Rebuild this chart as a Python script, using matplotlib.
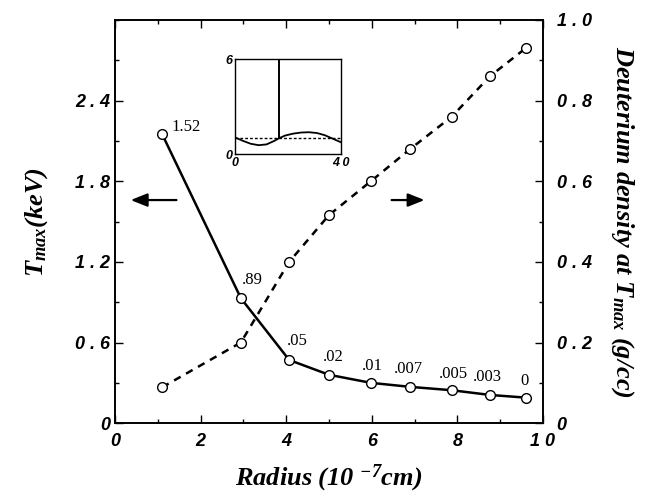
import numpy as np
from matplotlib import pyplot as plt
from matplotlib.ticker import MultipleLocator

# Tmax curve (left axis, keV) with labels at each point
radius = [1.1, 2.94, 4.07, 5.0, 5.98, 6.9, 7.87, 8.76, 9.6]
t_max = [2.15, 0.93, 0.47, 0.36, 0.30, 0.27, 0.245, 0.21, 0.19]
point_labels = ['1.52', '.89', '.05', '.02', '.01', '.007', '.005', '.003', '0']

# deuterium density at Tmax (right axis, g/cc)
density = [0.089, 0.20, 0.40, 0.516, 0.60, 0.68, 0.76, 0.86, 0.93]

# inset profile
inset_x = [0, 3, 6, 9, 12, 15, 16.6, 19, 22, 25, 28, 31, 34, 37, 40]
inset_y = [1.07, 0.85, 0.66, 0.57, 0.62, 0.85, 1.0, 1.18, 1.30, 1.37, 1.39, 1.34, 1.20, 0.98, 0.76]
inset_dash = [1.0, 1.0]
inset_spike_x = 16.6

left_ticks = [0, 0.6, 1.2, 1.8, 2.4]
left_ticklabels = ['0', '0 . 6', '1 . 2', '1 . 8', '2 . 4']
right_ticks = [0, 0.2, 0.4, 0.6, 0.8, 1.0]
right_ticklabels = ['0', '0 . 2', '0 . 4', '0 . 6', '0 . 8', '1 . 0']
x_ticks = [0, 2, 4, 6, 8, 10]
x_ticklabels = ['0', '2', '4', '6', '8', '1 0']

plt.rcParams['mathtext.fontset'] = 'custom'
plt.rcParams['mathtext.it'] = 'Liberation Serif:bold:italic'
plt.rcParams['mathtext.rm'] = 'Liberation Serif:bold:italic'
plt.rcParams['mathtext.bf'] = 'Liberation Serif:bold:italic'

tick_font = dict(family='Liberation Sans', weight='bold', style='italic', size=13)
label_font = dict(family='Liberation Serif', weight='bold', style='italic', size=19)

fig = plt.figure(figsize=(6.54, 4.99), dpi=100)
ax = fig.add_axes([0.176, 0.152, 0.654, 0.808])
ax2 = ax.twinx()

ax.plot(radius, t_max, '-', color='black', lw=1.8, marker='o', ms=7,
        mfc='white', mec='black', mew=1.0, zorder=3)
ax2.plot(radius, density, color='black', lw=1.8, ls=(0, (3, 2.5)), marker='o', ms=7,
         mfc='white', mec='black', mew=1.0, zorder=3)

offsets = [(17, 5), (8, 13), (6, 14), (3, 13), (1, 12), (-1, 13), (1, 12), (-2, 13), (-1, 12)]
for x, y, s, off in zip(radius, t_max, point_labels, offsets):
    ax.annotate(s, (x, y), xytext=off, textcoords='offset points', ha='center', va='center',
                family='Liberation Serif', fontsize=12)

ax.set_xlim(0, 10)
ax.set_ylim(0, 3.0)
ax2.set_ylim(0, 1.0)

ax.set_xticks(x_ticks)
ax.set_xticklabels(x_ticklabels, fontdict=tick_font)
ax.set_yticks(left_ticks)
ax.set_yticklabels(left_ticklabels, fontdict=tick_font)
ax2.set_yticks(right_ticks)
ax2.set_yticklabels(right_ticklabels, fontdict=tick_font)
ax.xaxis.set_minor_locator(MultipleLocator(1))
ax.yaxis.set_minor_locator(MultipleLocator(0.3))
ax2.yaxis.set_minor_locator(MultipleLocator(0.1))

ax.tick_params(which='both', direction='in', top=True, width=1)
ax.tick_params(which='major', length=6)
ax.tick_params(which='minor', length=3)
ax.tick_params(axis='x', pad=7)
ax2.tick_params(which='both', direction='in', width=1)
ax2.tick_params(which='major', length=6, pad=10)
ax2.tick_params(which='minor', length=3)
for a in (ax, ax2):
    for sp in a.spines.values():
        sp.set_linewidth(1.2)

ax.set_xlabel('Radius (10 $^{-7}$cm)', fontdict=label_font, labelpad=9)
ax.set_ylabel('$T_{max}$(keV)', fontdict=label_font, labelpad=18)
ax2.set_ylabel('Deuterium density at $T_{max}$ (g/cc)', fontdict=label_font,
               rotation=270, labelpad=32)

arrow = dict(arrowstyle='-|>,head_length=1.0,head_width=0.4', color='black', lw=1.6)
ax.annotate('', xy=(0.3, 1.66), xytext=(1.5, 1.66), arrowprops=arrow)
ax.annotate('', xy=(7.3, 1.66), xytext=(6.4, 1.66), arrowprops=arrow)

# inset
axi = fig.add_axes([0.359, 0.691, 0.162, 0.190])
axi.plot(inset_x, inset_y, color='black', lw=1.3)
axi.plot([0, 40], inset_dash, color='black', lw=1.0, ls=(0, (2, 1.5)))
axi.plot([inset_spike_x, inset_spike_x], [1.0, 6], color='black', lw=1.4)
axi.set_xlim(0, 40)
axi.set_ylim(0, 6)
axi.set_xticks([0, 40])
axi.set_xticklabels(['0', '4 0'], family='Liberation Sans', weight='bold', style='italic', size=9)
axi.set_yticks([0, 6])
axi.set_yticklabels(['0', '6'], family='Liberation Sans', weight='bold', style='italic', size=9)
axi.tick_params(direction='in', length=2, pad=2)
for sp in axi.spines.values():
    sp.set_linewidth(1.0)

plt.savefig('out.png', dpi=100)
